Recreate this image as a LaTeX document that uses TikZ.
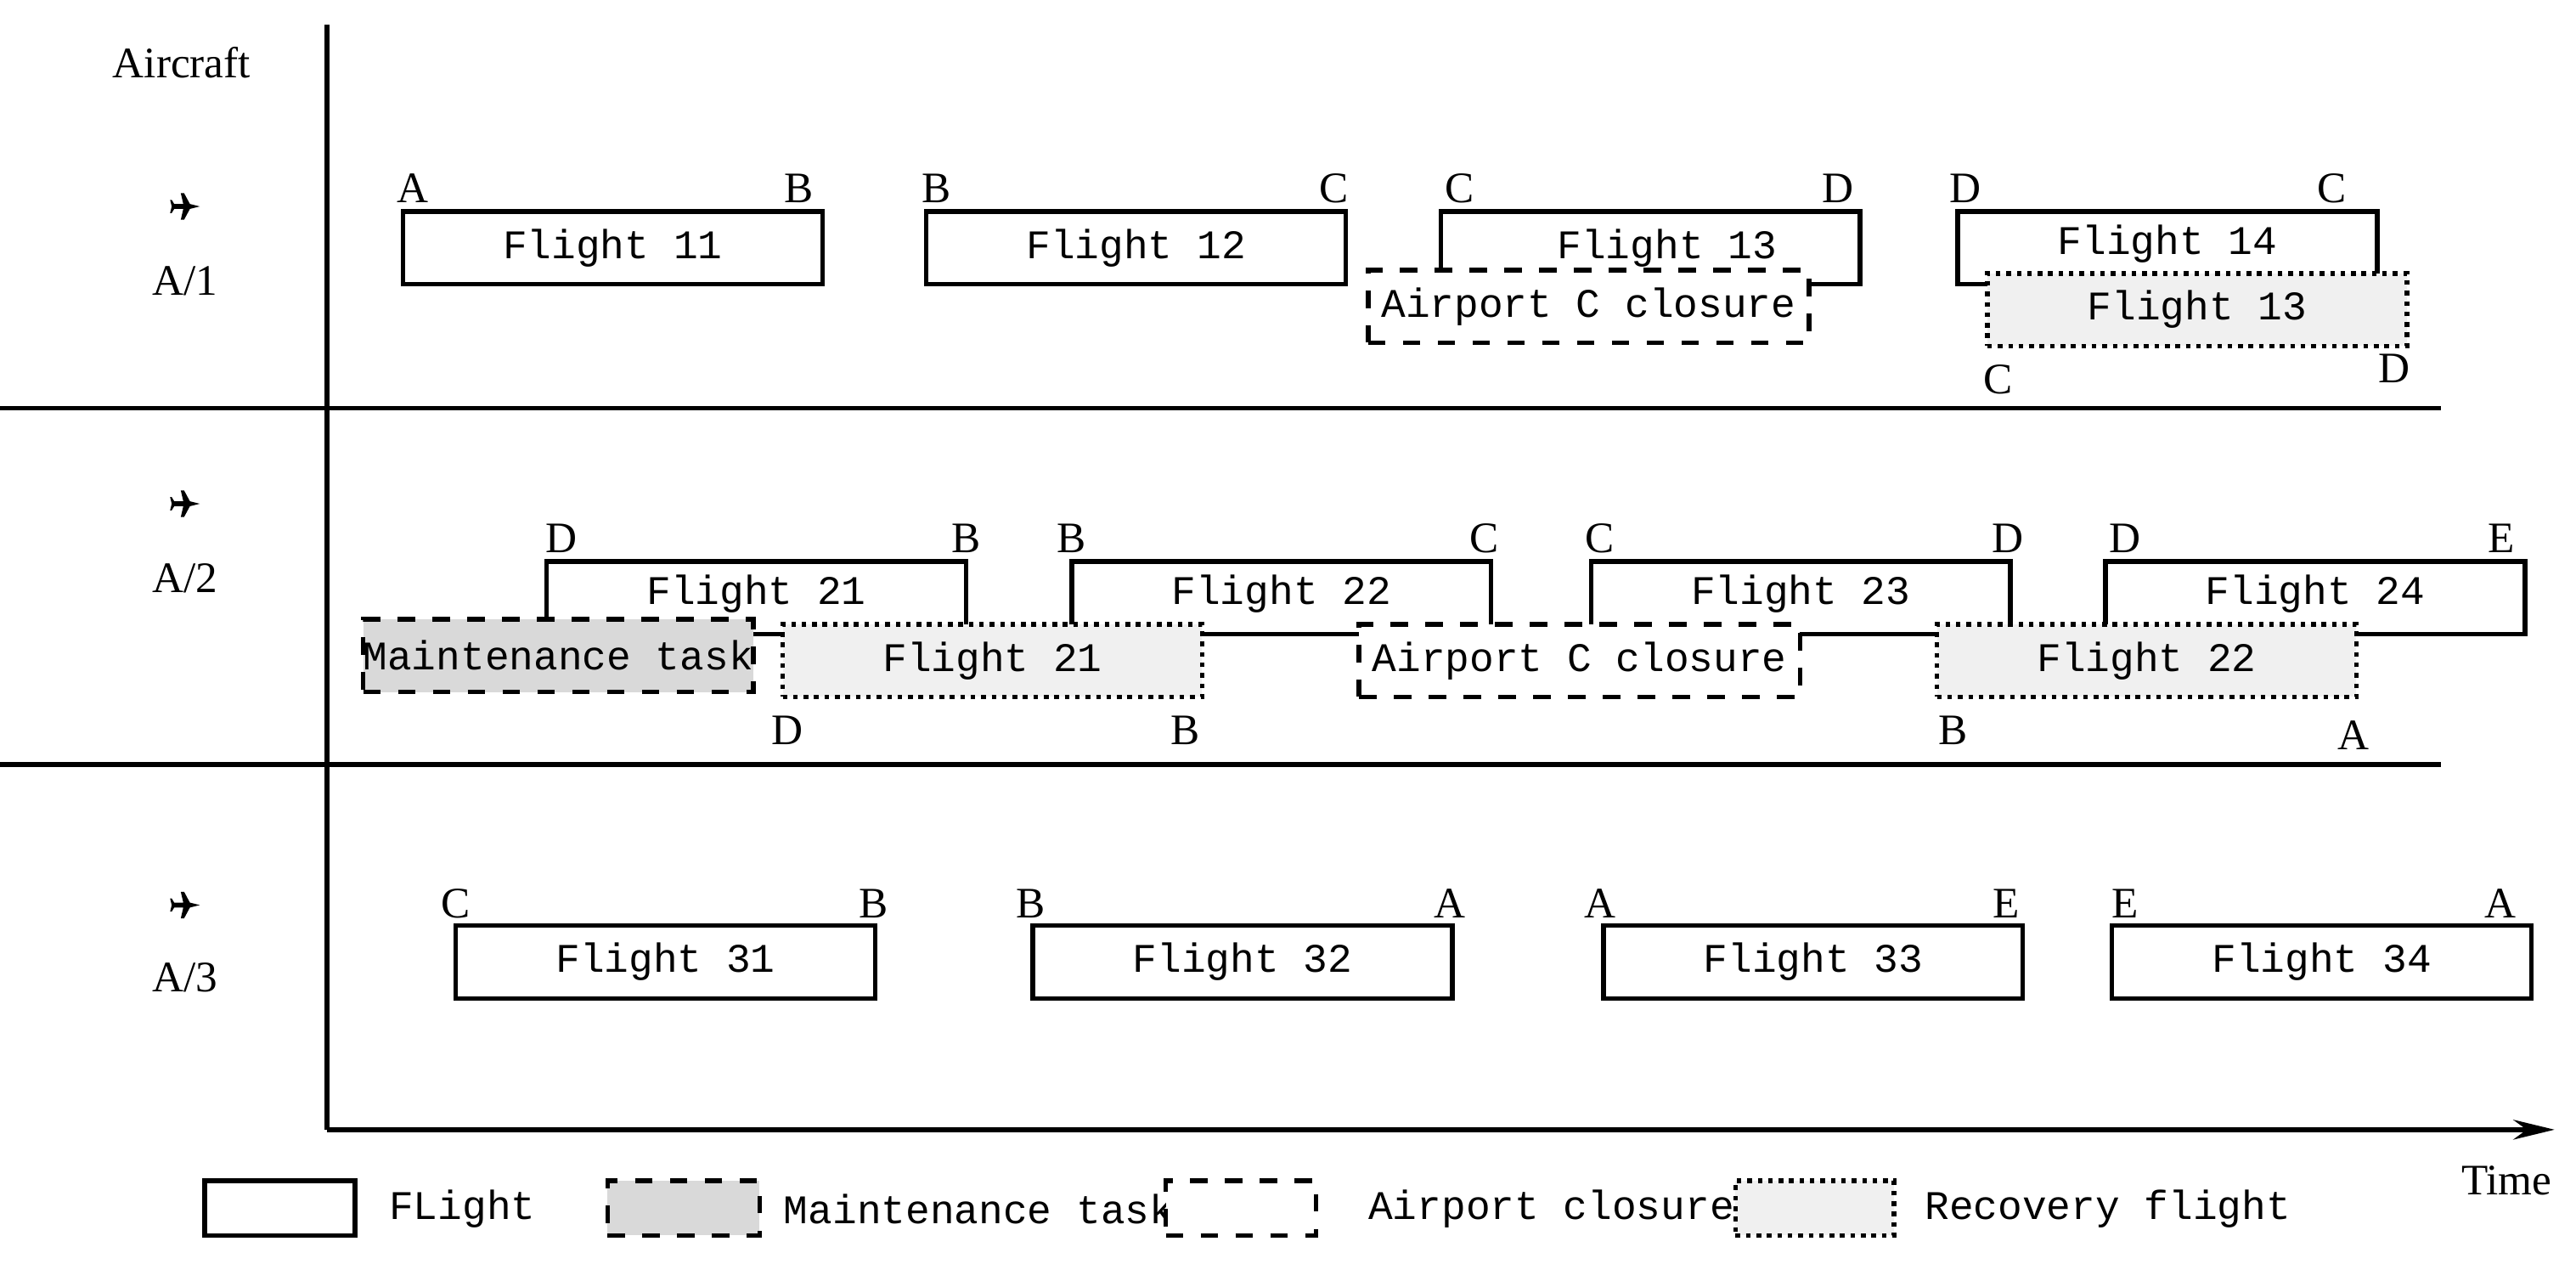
\documentclass[tikz,border=0pt]{standalone}
\usepackage{fontspec}
\setmainfont{Liberation Serif}
\newfontfamily\boxfont{Liberation Mono}
\usetikzlibrary{arrows.meta}
\tikzset{
  flt/.style={draw, thick, fill=white, minimum width=2.54cm, minimum height=0.44cm,
    inner sep=0pt, font=\boxfont\fontsize{7}{8}\selectfont},
  mnt/.style={flt, dashed, fill=gray!30},
  cls/.style={flt, dashed, minimum width=2.67cm},
  rec/.style={flt, densely dotted, fill=gray!12},
  lbl/.style={font=\fontsize{7.5}{8}\selectfont, inner sep=0pt},
  lgd/.style={anchor=west, font=\boxfont\fontsize{7}{8}\selectfont, inner sep=0pt},
  plane/.pic={\fill (0.09,0) -- (0.03,0.015) -- (-0.005,0.08) -- (-0.025,0.08) -- (-0.01,0.015)
    -- (-0.065,0.015) -- (-0.08,0.04) -- (-0.09,0.04) -- (-0.08,0) -- (-0.09,-0.04) -- (-0.08,-0.04)
    -- (-0.065,-0.015) -- (-0.01,-0.015) -- (-0.025,-0.08) -- (-0.005,-0.08) -- (0.03,-0.015) -- cycle;}
}
\begin{document}
\begin{tikzpicture}
\useasboundingbox (0,0) rectangle (15.6,-7.65);
% axes and row separators
\coordinate (o) at (1.98,-6.84);
\coordinate (top) at (1.98,-0.15);
\coordinate (tend) at (15.47,-6.84);
\draw[thick] (top) -- (o);
\draw[thick, -{Stealth[length=0.25cm,width=0.12cm]}] (o) -- (tend);
\coordinate (s1a) at (0,-2.47); \coordinate (s1b) at (14.78,-2.47);
\coordinate (s2a) at (0,-4.63); \coordinate (s2b) at (14.78,-4.63);
\draw[thick] (s1a) -- (s1b);
\draw[thick] (s2a) -- (s2b);
\node[lbl] (aircraft) at (1.10,-0.38) {Aircraft};
\node[lbl] (time) at (15.18,-7.15) {Time};
\pic at (1.12,-1.25) {plane};
\pic at (1.12,-3.05) {plane};
\pic at (1.12,-5.48) {plane};
\node[lbl] (a1) at (1.12,-1.70) {A/1};
\node[lbl] (a2) at (1.12,-3.50) {A/2};
\node[lbl] (a3) at (1.12,-5.92) {A/3};

% Aircraft A/1
\node[flt] (f11) at (3.71,-1.50) {Flight 11};
\node[flt] (f12) at (6.88,-1.50) {Flight 12};
\node[flt] (f13) at (9.995,-1.50) {\hspace*{0.2cm}Flight 13\\[0.3cm]};
\node[flt] (f14) at (13.125,-1.50) {\raisebox{0.1cm}{Flight 14}};
\node[cls] (c1) at (9.62,-1.855) {Airport C closure};
\node[rec] (r13) at (13.305,-1.875) {Flight 13};
\node[lbl] at (2.50,-1.14) {A};
\node[lbl] at (4.84,-1.14) {B};
\node[lbl] at (5.67,-1.14) {B};
\node[lbl] at (8.08,-1.14) {C};
\node[lbl] at (8.84,-1.14) {C};
\node[lbl] at (11.13,-1.14) {D};
\node[lbl] at (11.90,-1.14) {D};
\node[lbl] at (14.12,-1.14) {C};
\node[lbl] at (12.10,-2.30) {C};
\node[lbl] at (14.50,-2.23) {D};

% Aircraft A/2
\node[flt] (f21) at (4.58,-3.62) {\raisebox{0.1cm}{Flight 21}};
\node[flt] (f22) at (7.76,-3.62) {\raisebox{0.1cm}{Flight 22}};
\node[flt] (f23) at (10.905,-3.62) {\raisebox{0.1cm}{Flight 23}};
\node[flt] (f24) at (14.02,-3.62) {\raisebox{0.1cm}{Flight 24}};
\node[mnt, minimum width=2.36cm] (m) at (3.38,-3.97) {Maintenance task};
\node[rec] (r21) at (6.01,-4.00) {Flight 21};
\node[cls] (c2) at (9.565,-4.00) {Airport C closure};
\node[rec] (r22) at (13.00,-4.00) {Flight 22};
\node[lbl] at (3.40,-3.26) {D};
\node[lbl] at (5.85,-3.26) {B};
\node[lbl] at (6.49,-3.26) {B};
\node[lbl] at (8.99,-3.26) {C};
\node[lbl] at (9.69,-3.26) {C};
\node[lbl] at (12.16,-3.26) {D};
\node[lbl] at (12.87,-3.26) {D};
\node[lbl] at (15.15,-3.26) {E};
\node[lbl] at (4.77,-4.42) {D};
\node[lbl] at (7.18,-4.42) {B};
\node[lbl] at (11.83,-4.42) {B};
\node[lbl] at (14.25,-4.45) {A};

% Aircraft A/3
\node[flt] (f31) at (4.03,-5.825) {Flight 31};
\node[flt] (f32) at (7.525,-5.825) {Flight 32};
\node[flt] (f33) at (10.98,-5.825) {Flight 33};
\node[flt] (f34) at (14.06,-5.825) {Flight 34};
\node[lbl] at (2.76,-5.47) {C};
\node[lbl] at (5.29,-5.47) {B};
\node[lbl] at (6.24,-5.47) {B};
\node[lbl] at (8.78,-5.47) {A};
\node[lbl] at (9.69,-5.47) {A};
\node[lbl] at (12.15,-5.47) {E};
\node[lbl] at (12.87,-5.47) {E};
\node[lbl] at (15.14,-5.47) {A};

% Legend
\node[flt, minimum width=0.91cm, minimum height=0.33cm] (l1) at (1.695,-7.315) {};
\node[lgd] at (2.35,-7.32) {FLight};
\node[mnt, minimum width=0.92cm, minimum height=0.33cm] (l2) at (4.14,-7.315) {};
\node[lgd] at (4.74,-7.32) {Maintenance task};
\node[cls, minimum width=0.91cm, minimum height=0.33cm] (l3) at (7.515,-7.315) {};
\node[lgd] at (8.28,-7.32) {Airport closure};
\node[rec, minimum width=0.96cm, minimum height=0.33cm] (l4) at (10.99,-7.315) {};
\node[lgd] at (11.65,-7.32) {Recovery flight};
\end{tikzpicture}
\end{document}
